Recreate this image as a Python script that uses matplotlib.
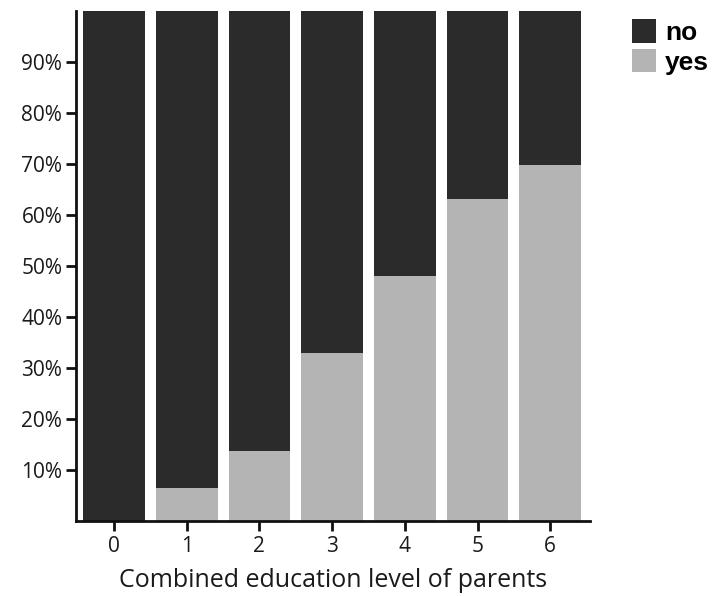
import matplotlib
matplotlib.use("Agg")
import matplotlib.pyplot as plt
import numpy as np

categories = ["0", "1", "2", "3", "4", "5", "6"]
yes_pct = [0.0, 6.4, 13.7, 33.0, 48.0, 63.1, 69.8]
no_pct = [100.0 - v for v in yes_pct]
ytick_vals = [10, 20, 30, 40, 50, 60, 70, 80, 90]
ytick_labels = ["10%", "20%", "30%", "40%", "50%", "60%", "70%", "80%", "90%"]
series_names = ["no", "yes"]

dark = "#2b2b2b"
gray = "#b4b4b4"

fig = plt.figure(figsize=(7.12, 5.96), dpi=100)
ax = fig.add_axes([0.107, 0.126, 0.722, 0.856])

x = np.arange(len(categories))
b_yes = ax.bar(x, yes_pct, width=0.85, color=gray, label=series_names[1])
b_no = ax.bar(x, no_pct, bottom=yes_pct, width=0.85, color=dark, label=series_names[0])

ax.set_xlim(-0.52, 6.55)
ax.set_ylim(0, 100)
ax.set_xticks(x)
ax.set_xticklabels(categories, fontsize=15, family="Open Sans", color="#1a1a1a")
ax.set_yticks(ytick_vals)
ax.set_yticklabels(ytick_labels, fontsize=15, family="Open Sans", color="#1a1a1a")
ax.tick_params(axis="both", direction="out", length=7, width=2, color="#111111", pad=4)
ax.tick_params(axis="y", pad=3)

for s in ["top", "right"]:
    ax.spines[s].set_visible(False)
for s in ["left", "bottom"]:
    ax.spines[s].set_linewidth(2)
    ax.spines[s].set_color("#111111")

ax.set_xlabel("Combined education level of parents", fontsize=18, family="Open Sans",
              color="#1a1a1a", labelpad=8)

leg = fig.legend(handles=[b_no, b_yes], labels=series_names, loc="upper left",
                 bbox_to_anchor=(632 / 712, 1 - 19 / 596), bbox_transform=fig.transFigure,
                 frameon=False,
                 prop={"family": "Liberation Sans", "weight": "bold", "size": 19},
                 handlelength=0.9, handleheight=1.0, handletextpad=0.35,
                 labelspacing=0.15, borderaxespad=0, borderpad=0)

fig.savefig("out.png", dpi=100, facecolor="white")
